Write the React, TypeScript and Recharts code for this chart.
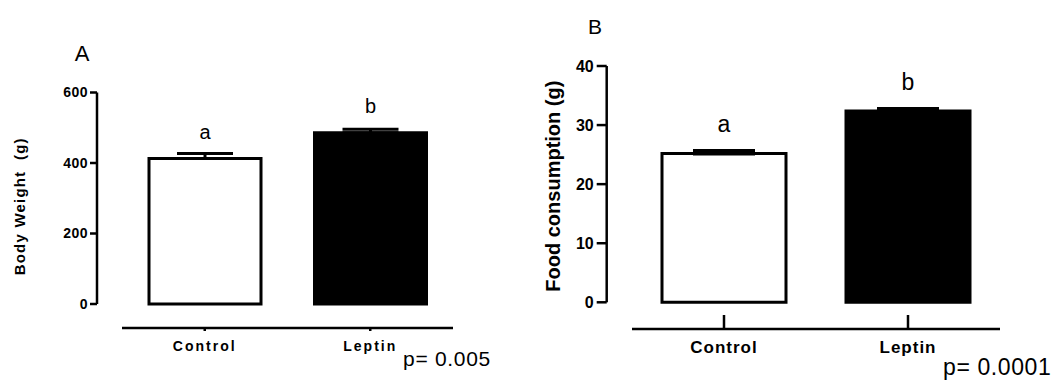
import { BarChart, Bar, XAxis, YAxis, Cell, ErrorBar, LabelList } from "recharts";

const groups = ["Control", "Leptin"];
const bodyWeight = [413, 486];
const bodyWeightSem = [14, 10];
const foodConsumption = [25.2, 32.4];
const foodConsumptionSem = [0.4, 0.3];
const letters = ["a", "b"];
const weightTicks = [0, 200, 400, 600];
const foodTicks = [0, 10, 20, 30, 40];

const FONT = '"Liberation Sans", Arial, Helvetica, sans-serif';
const fills = ["#ffffff", "#000000"];

const weightData = groups.map((g, i) => ({
  group: g,
  value: bodyWeight[i],
  err: [0, bodyWeightSem[i]],
  letter: letters[i],
}));

const foodData = groups.map((g, i) => ({
  group: g,
  value: foodConsumption[i],
  err: [0, foodConsumptionSem[i]],
  letter: letters[i],
}));

// group label under the detached x axis line, with its own small tick
function GroupTick(props: any) {
  const { x, y, payload, up, len, fontSize, dy, spacing } = props;
  return (
    <g>
      <line x1={x} x2={x} y1={y} y2={up ? y - len : y + len} stroke="#000" strokeWidth={2.5} />
      <text
        x={x}
        y={y + dy}
        textAnchor="middle"
        fill="#000"
        fontFamily={FONT}
        fontWeight={700}
        fontSize={fontSize}
        letterSpacing={spacing}
      >
        {payload.value}
      </text>
    </g>
  );
}

function Panel(props: any) {
  const p = props;
  return (
    <div style={{ position: "absolute", left: p.left, top: 0 }}>
      <BarChart width={p.width} height={383} data={p.data} margin={p.margin}>
        {/* spacer axes keep the visible axes detached from the plot */}
        <YAxis yAxisId="gap" width={p.yGap} domain={p.domain} ticks={p.ticks} axisLine={false} tickLine={false} tick={false} />
        <YAxis
          yAxisId="main"
          width={p.yWidth}
          domain={p.domain}
          ticks={p.ticks}
          interval={0}
          stroke="#000"
          strokeWidth={2.5}
          tickSize={p.yTickSize}
          tickMargin={p.yTickMargin}
          tick={{ fill: "#000", fontSize: p.yFont, fontWeight: 700, fontFamily: FONT, letterSpacing: p.ySpacing }}
          label={{
            value: p.yLabel,
            angle: -90,
            position: "center",
            dx: p.labelDx,
            dy: p.labelDy,
            style: { fill: "#000", fontSize: p.labelFont, fontWeight: 700, fontFamily: FONT, letterSpacing: p.labelSpacing },
          }}
        />
        <XAxis xAxisId="gap" dataKey="group" height={p.xGap} axisLine={false} tickLine={false} tick={false} />
        <XAxis
          xAxisId="main"
          dataKey="group"
          height={30}
          stroke="#000"
          strokeWidth={2.5}
          tickLine={false}
          tickSize={0}
          tickMargin={0}
          interval={0}
          tick={(t: any) => (
            <GroupTick {...t} up={p.tickUp} len={p.tickLen} fontSize={p.groupFont} dy={p.groupDy} spacing={p.groupSpacing} />
          )}
        />
        <Bar
          dataKey="value"
          xAxisId="main"
          yAxisId="main"
          barSize={p.barSize}
          stroke="#000"
          strokeWidth={3}
          isAnimationActive={false}
        >
          {p.data.map((_: any, i: number) => (
            <Cell key={i} fill={fills[i]} />
          ))}
          <ErrorBar dataKey="err" width={p.capHalf} stroke="#000" strokeWidth={p.errWidth} direction="y" />
          <LabelList dataKey="letter" position="top" offset={p.letterOffset} fill="#000" fontSize={p.letterFont} fontFamily={FONT} />
        </Bar>
      </BarChart>
    </div>
  );
}

export default function App() {
  return (
    <div style={{ position: "absolute", left: 0, top: 0, width: 1053, height: 383, background: "#fff" }}>
      <Panel
        left={0}
        width={500}
        data={weightData}
        margin={{ top: 92.5, right: 47, bottom: 25, left: 0 }}
        yGap={25}
        yWidth={97}
        xGap={24}
        domain={[0, 600]}
        ticks={weightTicks}
        yTickSize={7}
        yTickMargin={2}
        yFont={14}
        ySpacing={0.5}
        yLabel={"Body Weight\u00A0 (g)"}
        labelFont={15}
        labelSpacing={1.2}
        labelDx={-28.5}
        labelDy={8}
        tickUp={false}
        tickLen={3}
        groupFont={14}
        groupDy={23}
        groupSpacing={2}
        barSize={112}
        capHalf={28}
        errWidth={3}
        letterOffset={19.3}
        letterFont={20}
      />
      <Panel
        left={500}
        width={553}
        data={foodData}
        margin={{ top: 66, right: 53, bottom: 24, left: 0 }}
        yGap={25.3}
        yWidth={106.7}
        xGap={26.7}
        domain={[0, 40]}
        ticks={foodTicks}
        yTickSize={10}
        yTickMargin={3}
        yFont={16}
        ySpacing={0}
        yLabel="Food consumption (g)"
        labelFont={20}
        labelSpacing={0}
        labelDx={0}
        labelDy={2}
        tickUp={true}
        tickLen={14}
        groupFont={17}
        groupDy={24}
        groupSpacing={1}
        barSize={124}
        capHalf={31}
        errWidth={4}
        letterOffset={21}
        letterFont={23}
      />
      <svg width={1053} height={383} style={{ position: "absolute", left: 0, top: 0, pointerEvents: "none" }}>
        <text x={82} y={60.5} textAnchor="middle" fontFamily={FONT} fontSize={22} fill="#000">A</text>
        <text x={595} y={33.5} textAnchor="middle" fontFamily={FONT} fontSize={21} fill="#000">B</text>
        <text x={403} y={366} fontFamily={FONT} fontSize={21} letterSpacing={0.7} fill="#000">p= 0.005</text>
        <text x={943} y={375} fontFamily={FONT} fontSize={23} letterSpacing={0.6} fill="#000">p= 0.0001</text>
      </svg>
    </div>
  );
}
